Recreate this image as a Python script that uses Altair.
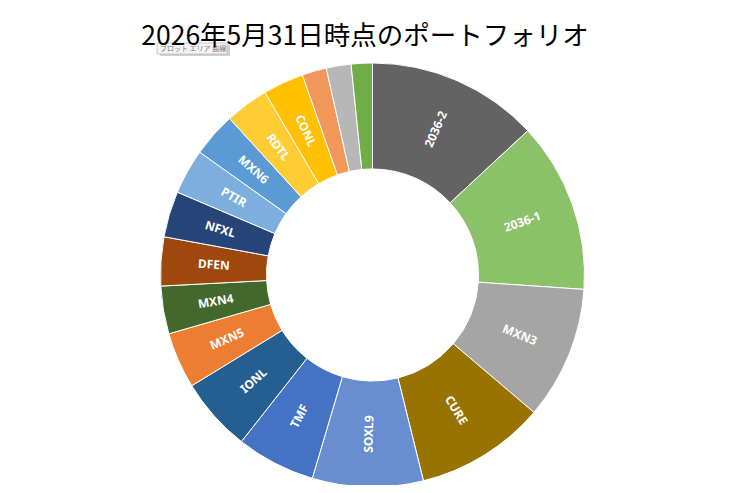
import altair as alt
import pandas as pd

# Data (share of portfolio in degrees of the circle)
names = ["2036-2", "2036-1", "MXN3", "CURE", "SOXL9", "TMF", "IONL", "MXN5", "MXN4",
         "DFEN", "NFXL", "PTIR", "MXN6", "RDTL", "CONL", "OTHER1", "OTHER2", "OTHER3"]
values = [47.1, 46.8, 36.5, 35.7, 30.4, 21.7, 20.3, 15.4, 13.1,
          13.4, 12.6, 12.4, 12.2, 11.9, 11.2, 6.7, 6.8, 5.8]
labels = ["2036-2", "2036-1", "MXN3", "CURE", "SOXL9", "TMF", "IONL", "MXN5", "MXN4",
          "DFEN", "NFXL", "PTIR", "MXN6", "RDTL", "CONL", "", "", ""]
colors = ["#636363", "#8BC168", "#A5A5A5", "#997300", "#698ED0", "#4472C4", "#255E91",
          "#ED7D31", "#43682B", "#9E480E", "#264478", "#7CAFDD", "#5B9BD5", "#FFCD33",
          "#FFC000", "#F1975A", "#B7B7B7", "#70AD47"]
title_text = "2026年5月31日時点のポートフォリオ"
tip_text = "プロット エリア  曲線"

total = sum(values)
rows = []
cum = 0.0
for i, (n, v, l) in enumerate(zip(names, values, labels)):
    mid = (cum + v / 2) / total * 360.0
    cum += v
    ang = mid - 90 if mid < 180 else mid - 270
    rows.append({"name": n, "value": v, "label": l, "order": i, "angle": ang % 360})
df = pd.DataFrame(rows)

CX, CY = 364.5, 267

color_scale = alt.Scale(domain=names, range=colors)

arcs = alt.Chart(df).mark_arc(
    outerRadius=212, innerRadius=106, stroke="white", strokeWidth=1
).encode(
    theta=alt.Theta("value:Q", stack=True),
    color=alt.Color("name:N", scale=color_scale, legend=None),
    order=alt.Order("order:Q", sort="ascending"),
    x=alt.value(CX),
    y=alt.value(CY),
)

text = alt.Chart(df).mark_text(
    radius=159, color="white", font="Noto Sans", fontSize=12, fontWeight="bold",
    align="center", baseline="middle"
).encode(
    theta=alt.Theta("value:Q", stack=True),
    text="label:N",
    order=alt.Order("order:Q", sort="ascending"),
    angle=alt.Angle("angle:Q", scale=None),
    x=alt.value(CX),
    y=alt.value(CY),
)

tip_df = pd.DataFrame({"t": [tip_text]})
tip_shadow = alt.Chart(tip_df).mark_rect(fill="#d0d0d0").encode(
    x=alt.value(152), x2=alt.value(222), y=alt.value(37), y2=alt.value(48)
)
tip_box = alt.Chart(tip_df).mark_rect(fill="#f4f4f4", stroke="#bdbdbd", strokeWidth=0.8).encode(
    x=alt.value(149), x2=alt.value(219), y=alt.value(35), y2=alt.value(46)
)
tip_label = alt.Chart(tip_df).mark_text(
    font="Noto Sans CJK JP", fontSize=7, color="#777777", align="left", baseline="middle"
).encode(text="t:N", x=alt.value(152), y=alt.value(41))

title_df = pd.DataFrame({"t": [title_text]})
title = alt.Chart(title_df).mark_text(
    font="Noto Sans CJK JP", fontSize=26.5, color="black", align="center", baseline="alphabetic"
).encode(text="t:N", x=alt.value(357), y=alt.value(37))

chart = alt.layer(arcs, text, tip_shadow, tip_box, tip_label, title).properties(
    width=724, height=477, autosize=alt.AutoSizeParams(type="none"), padding=0
).configure_view(stroke=None)

chart.save("out.html", embed_options={"renderer": "svg", "actions": False})
